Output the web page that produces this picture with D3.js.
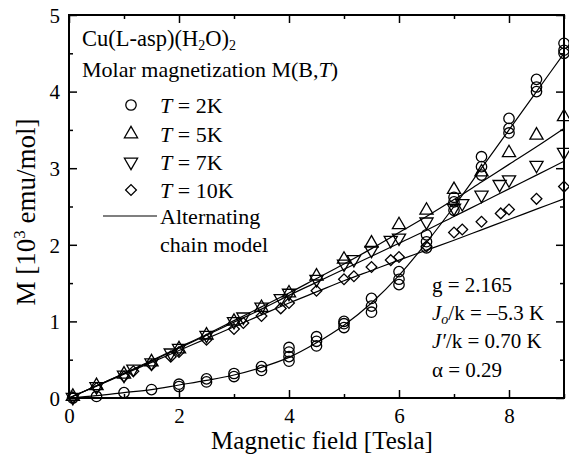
<!DOCTYPE html>
<html><head><meta charset="utf-8">
<script src="https://cdn.jsdelivr.net/npm/d3@7"></script>
<style>
body{margin:0;background:#fff;}
svg text{font-family:"Liberation Serif","Times New Roman",serif;fill:#000;}
</style></head>
<body><svg id="c" width="569" height="457"></svg>
<script>
// ---- data ----
const xMajorTicks = [0, 2, 4, 6, 8];
const xMinorTicks = [1, 3, 5, 7, 9];
const yMajorTicks = [0, 1, 2, 3, 4, 5];
const yMinorTicks = [0.5, 1.5, 2.5, 3.5, 4.5];

// T = 2K (repeated measurements)
const field2K = [0.07,0.5,1,1.5,2,2,2.5,2.5,3,3,3.5,3.5,4,4,4,4,4.5,4.5,4.5,5,5,5,5.5,5.5,5.5,6,6,6,6.5,6.5,6.5,7,7,7,7.5,7.5,7.5,8,8,8,8.5,8.5,8.5,9,9,9];
const m2K     = [0.0,0.02,0.07,0.11,0.15,0.18,0.21,0.25,0.28,0.32,0.36,0.41,0.48,0.54,0.6,0.66,0.68,0.74,0.8,0.92,0.97,1.0,1.12,1.2,1.3,1.48,1.55,1.65,1.96,2.04,2.13,2.45,2.56,2.62,2.91,3.02,3.15,3.46,3.52,3.65,4.0,4.06,4.16,4.5,4.54,4.63];

const field5K = [0.07,0.5,1,1.5,2,2.5,3,3.5,4,4.5,5,5.5,6,6.5,7,7.5,8,8.5,9];
const m5K     = [0.02,0.16,0.31,0.47,0.64,0.82,1.0,1.18,1.37,1.59,1.81,2.02,2.26,2.45,2.72,2.95,3.2,3.43,3.67];

const field7K = [0.07,0.5,1,1.17,1.5,1.85,2,2.5,3,3.17,3.5,3.85,4,4.5,5,5.18,5.5,5.85,6,6.5,7,7.15,7.5,7.83,8,8.5,9];
const m7K     = [0.01,0.15,0.3,0.38,0.46,0.59,0.65,0.82,1.0,1.06,1.19,1.3,1.37,1.55,1.75,1.81,1.93,2.06,2.09,2.3,2.48,2.54,2.65,2.79,2.85,3.04,3.21];

const field10K = [0.07,0.5,1,1.17,1.5,1.85,2,2.5,3,3.17,3.5,3.85,4,4.5,5,5.18,5.5,5.85,6,6.5,7,7.15,7.5,7.85,8,8.5,9];
const m10K     = [0.01,0.13,0.28,0.35,0.43,0.54,0.6,0.76,0.9,0.98,1.07,1.17,1.24,1.4,1.55,1.59,1.71,1.8,1.84,1.98,2.16,2.2,2.3,2.41,2.46,2.6,2.76];

// Alternating chain model curves
const modelField = [0,0.5,1,1.5,2,2.5,3,3.5,4,4.5,5,5.5,6,6.5,7,7.5,8,8.5,9];
const model2K  = [0,0.03,0.07,0.11,0.17,0.23,0.3,0.4,0.53,0.72,0.95,1.24,1.6,2.03,2.5,3.0,3.5,4.0,4.5];
const model5K  = [0,0.16,0.32,0.49,0.66,0.83,1.01,1.19,1.37,1.56,1.75,1.95,2.16,2.37,2.59,2.82,3.05,3.28,3.52];
const model7K  = [0,0.16,0.32,0.48,0.65,0.82,0.99,1.16,1.34,1.51,1.68,1.85,2.02,2.19,2.37,2.55,2.73,2.91,3.09];
const model10K = [0,0.155,0.31,0.465,0.62,0.775,0.93,1.085,1.24,1.385,1.53,1.665,1.8,1.93,2.06,2.195,2.33,2.465,2.6];

// ---- drawing ----
const svg = d3.select("#c");
const x = d3.scaleLinear().domain([0, 9]).range([69, 564]);
const y = d3.scaleLinear().domain([0, 5]).range([398, 15]);

const line = d3.line().x(d => x(d[0])).y(d => y(d[1])).curve(d3.curveMonotoneX);
[model2K, model5K, model7K, model10K].forEach(m => {
  svg.append("path").datum(modelField.map((f, i) => [f, m[i]]))
    .attr("d", line).attr("fill", "none").attr("stroke", "#000").attr("stroke-width", 1.2);
});

const sym = {
  circle: { p: d3.symbol().type(d3.symbolCircle).size(85), r: "" },
  up: { p: d3.symbol().type(d3.symbolTriangle).size(75), r: "" },
  down: { p: d3.symbol().type(d3.symbolTriangle).size(75), r: " rotate(180)" },
  diamond: { p: d3.symbol().type(d3.symbolSquare).size(58), r: " rotate(45)" }
};
function marker(cx, cy, kind) {
  svg.append("path").attr("d", sym[kind].p())
    .attr("transform", `translate(${cx},${cy})${sym[kind].r}`)
    .attr("fill", "none").attr("stroke", "#000").attr("stroke-width", 1.3);
}
function drawPts(fs, ms, kind) { fs.forEach((f, i) => marker(x(f), y(ms[i]), kind)); }
drawPts(field10K, m10K, "diamond");
drawPts(field7K, m7K, "down");
drawPts(field5K, m5K, "up");
drawPts(field2K, m2K, "circle");

// axes
function fixAxis(g) { g.select(".domain").remove(); g.selectAll("line").attr("stroke-width", 1.5); }
svg.append("g").attr("transform", `translate(0,${y(0)})`)
  .call(d3.axisBottom(x).tickValues(xMajorTicks).tickSize(-8).tickFormat(d3.format("d")))
  .call(fixAxis)
  .call(g => g.selectAll("text").attr("y", 25).attr("dy", 0).style("font-size", "21px"));
svg.append("g").attr("transform", `translate(0,${y(0)})`)
  .call(d3.axisBottom(x).tickValues(xMinorTicks).tickSize(-4).tickFormat("")).call(fixAxis);
svg.append("g").attr("transform", `translate(0,${y(5)})`)
  .call(d3.axisTop(x).tickValues(xMajorTicks).tickSize(-8).tickFormat("")).call(fixAxis);
svg.append("g").attr("transform", `translate(0,${y(5)})`)
  .call(d3.axisTop(x).tickValues(xMinorTicks).tickSize(-4).tickFormat("")).call(fixAxis);
svg.append("g").attr("transform", `translate(${x(0)},0)`)
  .call(d3.axisLeft(y).tickValues(yMajorTicks).tickSize(-8).tickFormat(d3.format("d")))
  .call(fixAxis)
  .call(g => g.selectAll("text").attr("x", -9).attr("dy", "0.35em").style("font-size", "21px"));
svg.append("g").attr("transform", `translate(${x(0)},0)`)
  .call(d3.axisLeft(y).tickValues(yMinorTicks).tickSize(-4).tickFormat("")).call(fixAxis);
svg.append("g").attr("transform", `translate(${x(9)},0)`)
  .call(d3.axisRight(y).tickValues(yMajorTicks).tickSize(-8).tickFormat("")).call(fixAxis);
svg.append("g").attr("transform", `translate(${x(9)},0)`)
  .call(d3.axisRight(y).tickValues(yMinorTicks).tickSize(-4).tickFormat("")).call(fixAxis);

svg.append("rect").attr("x", x(0)).attr("y", y(5)).attr("width", x(9) - x(0)).attr("height", y(0) - y(5))
  .attr("fill", "none").attr("stroke", "#000").attr("stroke-width", 2);

// axis titles
svg.append("text").attr("x", 322).attr("y", 449).attr("text-anchor", "middle")
  .style("font-size", "25px").text("Magnetic field [Tesla]");
const yt = svg.append("text").attr("transform", "translate(35,212) rotate(-90)").attr("text-anchor", "middle")
  .style("font-size", "27px");
yt.append("tspan").text("M [10");
yt.append("tspan").attr("dy", -10).style("font-size", "17px").text("3");
yt.append("tspan").attr("dy", 10).text(" emu/mol]");

// title text
const t1 = svg.append("text").attr("x", 82).attr("y", 46).style("font-size", "22.5px");
t1.append("tspan").text("Cu(L-asp)(H");
t1.append("tspan").attr("dy", 4).style("font-size", "14px").text("2");
t1.append("tspan").attr("dy", -4).text("O)");
t1.append("tspan").attr("dy", 4).style("font-size", "14px").text("2");
const t2 = svg.append("text").attr("x", 82).attr("y", 77).style("font-size", "22px");
t2.append("tspan").text("Molar magnetization M(B,");
t2.append("tspan").style("font-style", "italic").text("T");
t2.append("tspan").text(")");

// legend
const legendLabels = ["2K", "5K", "7K", "10K"];
const legendKinds = ["circle", "up", "down", "diamond"];
const legendY = [105, 134, 162, 190];
legendLabels.forEach((lab, i) => {
  marker(131, legendY[i], legendKinds[i]);
  const t = svg.append("text").attr("x", 160).attr("y", legendY[i] + 8).style("font-size", "22px");
  t.append("tspan").style("font-style", "italic").text("T");
  t.append("tspan").text(" = " + lab);
});
svg.append("line").attr("x1", 103).attr("x2", 157).attr("y1", 216).attr("y2", 216)
  .attr("stroke", "#000").attr("stroke-width", 1.2);
svg.append("text").attr("x", 160).attr("y", 224).style("font-size", "22px").text("Alternating");
svg.append("text").attr("x", 160).attr("y", 252).style("font-size", "22px").text("chain model");

// parameters
const pY = [292, 320, 348, 377];
svg.append("text").attr("x", 432).attr("y", pY[0]).style("font-size", "21px").text("g = 2.165");
const p2 = svg.append("text").attr("x", 432).attr("y", pY[1]).style("font-size", "21px");
p2.append("tspan").style("font-style", "italic").text("J");
p2.append("tspan").style("font-style", "italic").attr("dy", 4).style("font-size", "14px").text("o");
p2.append("tspan").attr("dy", -4).text("/k = \u20135.3 K");
const p3 = svg.append("text").attr("x", 432).attr("y", pY[2]).style("font-size", "21px");
p3.append("tspan").style("font-style", "italic").text("J\u2032");
p3.append("tspan").text("/k = 0.70 K");
svg.append("text").attr("x", 432).attr("y", pY[3]).style("font-size", "21px").text("\u03b1 = 0.29");
</script></body></html>
